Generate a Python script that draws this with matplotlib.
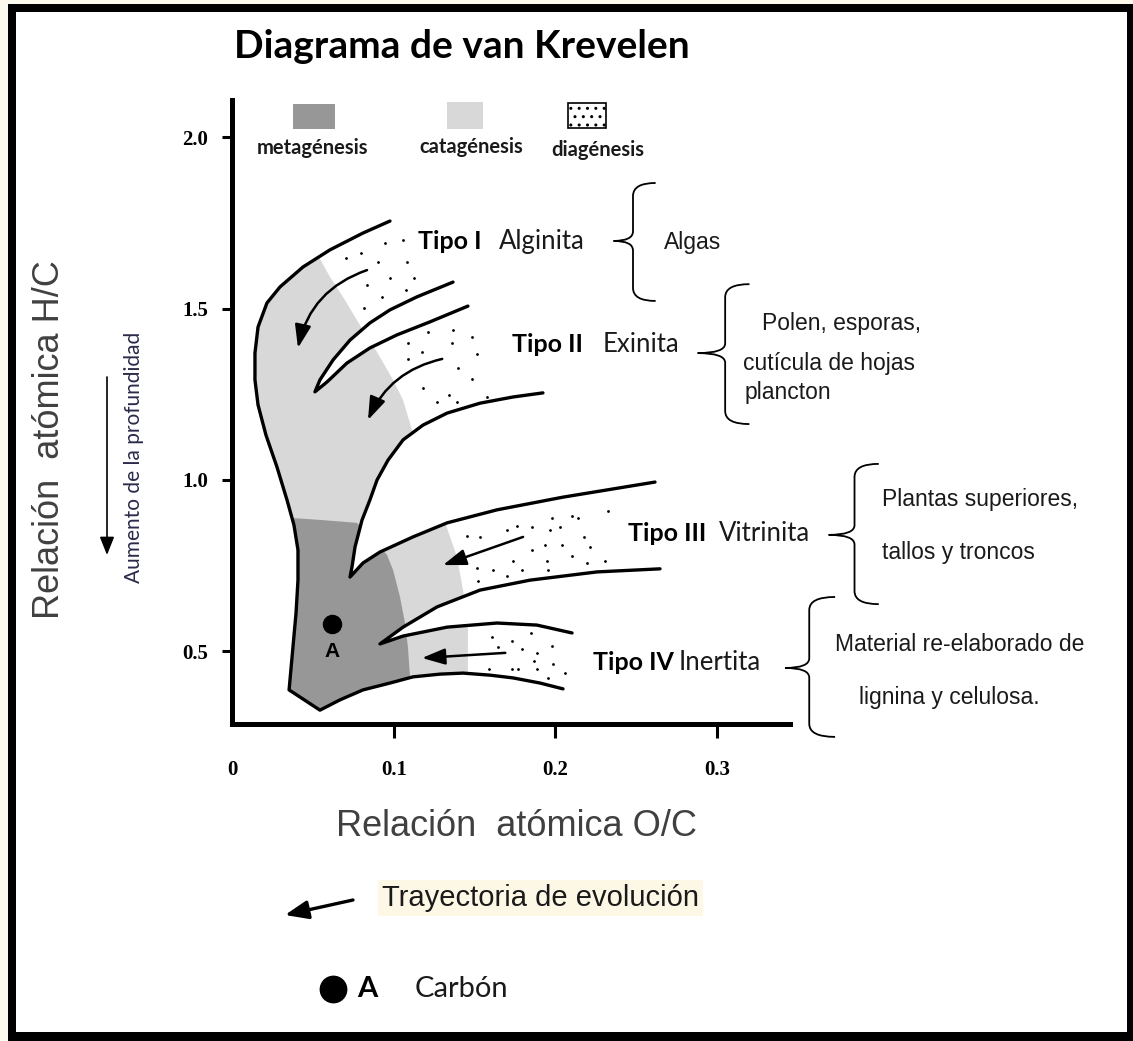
import numpy as np
import matplotlib
matplotlib.use('Agg')
import matplotlib.pyplot as plt
from matplotlib.path import Path
from matplotlib.patches import PathPatch, Polygon, Rectangle, FancyArrowPatch
from matplotlib.lines import Line2D

# --- band outlines (O/C, H/C) ---
# outer edge: top of Tipo I, round the left side, down and along the bottom of Tipo IV
outer_oc = [0.0977, 0.0810, 0.0606, 0.0439, 0.0297, 0.0216, 0.0161, 0.0142, 0.0142, 0.0161,
            0.0210, 0.0278, 0.0340, 0.0383, 0.0408, 0.0408, 0.0396, 0.0377, 0.0353,
            0.0544, 0.0668, 0.0810, 0.0977, 0.1119, 0.1286, 0.1429, 0.1596, 0.1738, 0.1905, 0.2047]
outer_hc = [1.755, 1.720, 1.671, 1.621, 1.563, 1.516, 1.446, 1.370, 1.292, 1.219,
            1.131, 1.038, 0.942, 0.869, 0.796, 0.708, 0.612, 0.513, 0.388,
            0.329, 0.359, 0.388, 0.408, 0.426, 0.434, 0.437, 0.431, 0.423, 0.408, 0.391]

# notch between Tipo I and Tipo II (lower edge of I -> tip -> upper edge of II)
gap12_oc = [0.1367, 0.1144, 0.0977, 0.0853, 0.0730, 0.0625, 0.0544, 0.0513,
            0.0588, 0.0711, 0.0853, 0.1020, 0.1224, 0.1459]
gap12_hc = [1.577, 1.534, 1.496, 1.458, 1.408, 1.350, 1.292, 1.257,
            1.286, 1.341, 1.385, 1.423, 1.461, 1.507]

# notch between Tipo II and Tipo III
gap23_oc = [0.1923, 0.1738, 0.1534, 0.1330, 0.1181, 0.1058, 0.0965, 0.0897, 0.0853, 0.0804,
            0.0761, 0.0742, 0.0730, 0.0810, 0.0915, 0.1119, 0.1330, 0.1639, 0.2047, 0.2616]
gap23_hc = [1.254, 1.242, 1.224, 1.195, 1.160, 1.117, 1.058, 1.000, 0.942, 0.883,
            0.805, 0.746, 0.717, 0.758, 0.790, 0.834, 0.875, 0.913, 0.950, 0.994]

# notch between Tipo III and Tipo IV
gap34_oc = [0.2647, 0.2257, 0.1843, 0.1534, 0.1268, 0.1058, 0.0915,
            0.1058, 0.1330, 0.1639, 0.1886, 0.2103]
gap34_hc = [0.741, 0.732, 0.708, 0.679, 0.630, 0.571, 0.522,
            0.545, 0.571, 0.583, 0.577, 0.554]

# catagenesis | diagenesis edge
cata_oc = [0.0421, 0.0513, 0.0606, 0.0686, 0.0810, 0.0897, 0.0996, 0.1058, 0.1113,
           0.1194, 0.1286, 0.1330, 0.1391, 0.1429, 0.1447, 0.1459, 0.1459, 0.1459]
cata_hc = [1.773, 1.671, 1.592, 1.534, 1.437, 1.373, 1.292, 1.233, 1.146,
           1.029, 0.942, 0.860, 0.776, 0.679, 0.621, 0.571, 0.437, 0.300]

# metagenesis | catagenesis edge
meta_oc = [0.0049, 0.0377, 0.0563, 0.0773, 0.0866, 0.0959, 0.0996, 0.1039, 0.1070, 0.1088, 0.1101, 0.1101]
meta_hc = [0.892, 0.889, 0.883, 0.875, 0.834, 0.781, 0.738, 0.659, 0.583, 0.513, 0.426, 0.300]

# diagenesis speckles
dots_oc = [0.0946, 0.1058, 0.0705, 0.0798, 0.0903, 0.1082, 0.0835, 0.0977, 0.1126, 0.0928, 0.1076, 0.0816,
           0.1212, 0.1367, 0.1484, 0.1088, 0.1175, 0.1361, 0.1515, 0.1088, 0.1398, 0.1484, 0.1181,
           0.1342, 0.1268, 0.1391, 0.1577,
           0.1453, 0.1534, 0.1701, 0.1763, 0.1855, 0.1967, 0.2028, 0.1979, 0.2103, 0.2140, 0.2325,
           0.1855, 0.1936, 0.2041, 0.2177, 0.2214, 0.1738, 0.1793, 0.1948, 0.1954, 0.2103, 0.2195,
           0.2307, 0.1515, 0.1614, 0.1701, 0.1521,
           0.1608, 0.1732, 0.1849, 0.1645, 0.1793, 0.1979, 0.1886, 0.1868, 0.1985, 0.1589, 0.1732,
           0.1769, 0.1886, 0.2059, 0.1954]
dots_hc = [1.691, 1.700, 1.647, 1.662, 1.636, 1.636, 1.569, 1.589, 1.589, 1.534, 1.554, 1.501,
           1.431, 1.437, 1.417, 1.399, 1.373, 1.399, 1.367, 1.353, 1.327, 1.294, 1.268,
           1.248, 1.227, 1.227, 1.242,
           0.837, 0.834, 0.854, 0.866, 0.863, 0.854, 0.863, 0.889, 0.895, 0.889, 0.910,
           0.796, 0.810, 0.810, 0.834, 0.805, 0.764, 0.738, 0.764, 0.738, 0.778, 0.758,
           0.764, 0.743, 0.738, 0.720, 0.706,
           0.542, 0.531, 0.554, 0.513, 0.507, 0.516, 0.496, 0.472, 0.464, 0.449, 0.449,
           0.449, 0.449, 0.437, 0.423]

# evolution paths
traj_start_oc = [0.0835, 0.130, 0.180, 0.169]
traj_start_hc = [1.612, 1.353, 0.834, 0.496]
traj_end_oc = [0.0408, 0.0841, 0.1305, 0.1175]
traj_end_hc = [1.385, 1.175, 0.752, 0.481]
traj_bend = [0.28, 0.25, 0.0, 0.0]

carbon_oc, carbon_hc = 0.0618, 0.580

# kerogen types
type_names = ['Tipo I', 'Tipo II', 'Tipo III', 'Tipo IV']
maceral_names = ['Alginita', 'Exinita', 'Vitrinita', 'Inertita']
type_oc = [0.115, 0.173, 0.245, 0.223]
maceral_oc = [0.165, 0.229, 0.301, 0.276]
type_hc = [1.694, 1.394, 0.845, 0.469]

# braces and what they group
brace_vert = [0.248, 0.305, 0.385, 0.357]
brace_tip = [0.236, 0.288, 0.369, 0.342]
brace_end = [0.262, 0.320, 0.400, 0.373]
brace_top = [1.866, 1.571, 1.047, 0.659]
brace_mid = [1.697, 1.370, 0.840, 0.452]
brace_bot = [1.522, 1.163, 0.638, 0.251]

desc_text = ['Algas', 'Polen, esporas,', 'cutícula de hojas', 'plancton',
             'Plantas superiores,', 'tallos y troncos',
             'Material re-elaborado de', 'lignina y celulosa.']
desc_oc = [0.267, 0.328, 0.316, 0.317, 0.402, 0.402, 0.373, 0.388]
desc_hc = [1.691, 1.455, 1.341, 1.254, 0.942, 0.790, 0.519, 0.367]

x_ticks = [0, 0.1, 0.2, 0.3]
x_labels = ['0', '0.1', '0.2', '0.3']
y_ticks = [0.5, 1.0, 1.5, 2.0]
y_labels = ['0.5', '1.0', '1.5', '2.0']

DARK = '#979797'
LIGHT = '#d8d8d8'
LATO = 'Lato'
SANS = 'Liberation Sans'
SERIF = 'Liberation Serif'

fig = plt.figure(figsize=(11.33, 10.41), dpi=100)
fig.patch.set_facecolor('#fdf9ec')
W, H = 1133, 1041
# black frame with white inside
fig.add_artist(Rectangle((8 / W, 0), 1 - 8 / W, (H - 4) / H, transform=fig.transFigure,
                         facecolor='black', edgecolor='none', zorder=-10))
fig.add_artist(Rectangle((16 / W, 9 / H), (1127 - 16) / W, (1032 - 12) / H, transform=fig.transFigure,
                         facecolor='white', edgecolor='none', zorder=-9))

ax = fig.add_axes([232 / W, (H - 724) / H, (790 - 232) / W, (724 - 100) / H])
ax.patch.set_alpha(0)
ax.set_xlim(0, 0.3451)
ax.set_ylim(0.2886, 2.1079)

# band region = outer edge + the three notches walked backwards
band_oc = outer_oc + gap34_oc[::-1] + gap23_oc[::-1] + gap12_oc[::-1]
band_hc = outer_hc + gap34_hc[::-1] + gap23_hc[::-1] + gap12_hc[::-1]
verts = np.column_stack([band_oc + band_oc[:1], band_hc + band_hc[:1]])
band = PathPatch(Path(verts, closed=True), facecolor='white', edgecolor='none')
ax.add_patch(band)

light = Polygon(np.column_stack([cata_oc + [0.0, 0.0], cata_hc + [0.300, 1.773]]),
                facecolor=LIGHT, edgecolor='none')
dark = Polygon(np.column_stack([meta_oc + [0.0, 0.0], meta_hc + [0.300, 0.892]]),
               facecolor=DARK, edgecolor='none')
for p in (light, dark):
    ax.add_patch(p)
    p.set_clip_path(band)

ax.plot(dots_oc, dots_hc, 'o', color='black', ms=2.0, mew=0)

for xs, ys in [(outer_oc, outer_hc), (gap12_oc, gap12_hc), (gap23_oc, gap23_hc), (gap34_oc, gap34_hc)]:
    ax.plot(xs, ys, color='black', lw=2.4, solid_joinstyle='round', solid_capstyle='round')

for i in range(4):
    ax.add_patch(FancyArrowPatch((traj_start_oc[i], traj_start_hc[i]), (traj_end_oc[i], traj_end_hc[i]),
                                 connectionstyle=f'arc3,rad={traj_bend[i]}',
                                 arrowstyle='-|>,head_length=1.0,head_width=0.35',
                                 mutation_scale=14, lw=1.8, color='black', shrinkA=0, shrinkB=0))

ax.plot([carbon_oc], [carbon_hc], 'o', color='black', ms=13)
ax.text(carbon_oc, carbon_hc - 0.081, 'A', fontsize=15, fontweight='bold', family=SANS,
        ha='center', va='center')

# legend boxes on top
ax.add_patch(Rectangle((0.0377, 2.023), 0.026, 0.073, facecolor=DARK, edgecolor='none'))
ax.add_patch(Rectangle((0.133, 2.023), 0.022, 0.079, facecolor=LIGHT, edgecolor='none'))
ax.add_patch(Rectangle((0.208, 2.026), 0.023, 0.073, facecolor='white', edgecolor='black',
                       lw=1.2, hatch='..'))
for lab, x, y in [('metagénesis', 0.0495, 1.968), ('catagénesis', 0.148, 1.971), ('diagénesis', 0.226, 1.962)]:
    ax.text(x, y, lab, fontsize=14.5, fontweight='bold', family=LATO, color='#1a1a1a',
            ha='center', va='center')

for i in range(4):
    ax.text(type_oc[i], type_hc[i], type_names[i], fontsize=18, fontweight='bold', family=LATO,
            ha='left', va='center', clip_on=False)
    ax.text(maceral_oc[i], type_hc[i], maceral_names[i], fontsize=18.5, family=LATO, color='#1a1a1a',
            ha='left', va='center', clip_on=False)

    xv, xt, xe = brace_vert[i], brace_tip[i], brace_end[i]
    top, mid, bot = brace_top[i], brace_mid[i], brace_bot[i]
    ry, rm = 0.038, 0.028
    bv = [(xe, top), (xv, top), (xv, top - ry), (xv, mid + rm), (xv, mid), (xt, mid),
          (xv, mid), (xv, mid - rm), (xv, bot + ry), (xv, bot), (xe, bot)]
    bc = [Path.MOVETO, Path.CURVE3, Path.CURVE3, Path.LINETO, Path.CURVE3, Path.CURVE3,
          Path.CURVE3, Path.CURVE3, Path.LINETO, Path.CURVE3, Path.CURVE3]
    ax.add_patch(PathPatch(Path(bv, bc), facecolor='none', edgecolor='black', lw=1.3, clip_on=False))

for t, x, y in zip(desc_text, desc_oc, desc_hc):
    ax.text(x, y, t, fontsize=16.5, family=SANS, color='#1a1a1a', ha='left', va='center', clip_on=False)

# axes look
ax.spines['top'].set_visible(False)
ax.spines['right'].set_visible(False)
ax.spines['left'].set_linewidth(3.6)
ax.spines['bottom'].set_linewidth(3.6)
ax.set_xticks(x_ticks)
ax.set_xticklabels(x_labels)
ax.set_yticks(y_ticks)
ax.set_yticklabels(y_labels)
ax.tick_params(axis='x', direction='out', length=10, width=2.2, pad=16)
ax.tick_params(axis='y', direction='out', length=7, width=2.2, pad=10)
ax.xaxis.get_major_ticks()[0].tick1line.set_visible(False)
for lab in ax.get_xticklabels() + ax.get_yticklabels():
    lab.set_family(SERIF)
    lab.set_fontsize(15)
    lab.set_fontweight('bold')

# texts outside the plot
fig.text(461.5 / W, 1 - 47 / H, 'Diagrama de van Krevelen', fontsize=28, fontweight='bold',
         family=LATO, ha='center', va='center')
fig.text(517 / W, 1 - 827 / H, 'Relación  atómica O/C', fontsize=26, family=SANS, color='#404040',
         ha='center', va='center')
fig.text(50 / W, 1 - 440 / H, 'Relación  atómica H/C', fontsize=26, family=SANS, color='#404040',
         ha='center', va='center', rotation=90)
fig.text(134 / W, 1 - 457 / H, 'Aumento de la profundidad', fontsize=15, family=LATO, color='#2a2a4a',
         ha='center', va='center', rotation=90)
fig.add_artist(FancyArrowPatch((107 / W, 1 - 377 / H), (107 / W, 1 - 555 / H), transform=fig.transFigure,
                               arrowstyle='-|>,head_length=1.0,head_width=0.4', mutation_scale=11,
                               lw=1.2, color='black', shrinkA=0, shrinkB=0))

fig.text(382 / W, 1 - 898 / H, 'Trayectoria de evolución', fontsize=21, family=SANS, color='#1a1a1a',
         ha='left', va='center',
         bbox=dict(facecolor='#fdf8e6', edgecolor='none', boxstyle='square,pad=0.15'))
fig.add_artist(FancyArrowPatch((353 / W, 1 - 900 / H), (285 / W, 1 - 915 / H), transform=fig.transFigure,
                               arrowstyle='-|>,head_length=1.0,head_width=0.4', mutation_scale=14,
                               lw=2.4, color='black', shrinkA=0, shrinkB=0))
fig.add_artist(Line2D([333 / W], [1 - 989 / H], marker='o', ms=19, color='black',
                      transform=fig.transFigure))
fig.text(357 / W, 1 - 989 / H, 'A', fontsize=21, fontweight='bold', family=LATO, ha='left', va='center')
fig.text(415 / W, 1 - 989 / H, 'Carbón', fontsize=21, family=LATO, color='#1a1a1a', ha='left', va='center')

fig.savefig('out.png', dpi=100, facecolor=fig.get_facecolor())
